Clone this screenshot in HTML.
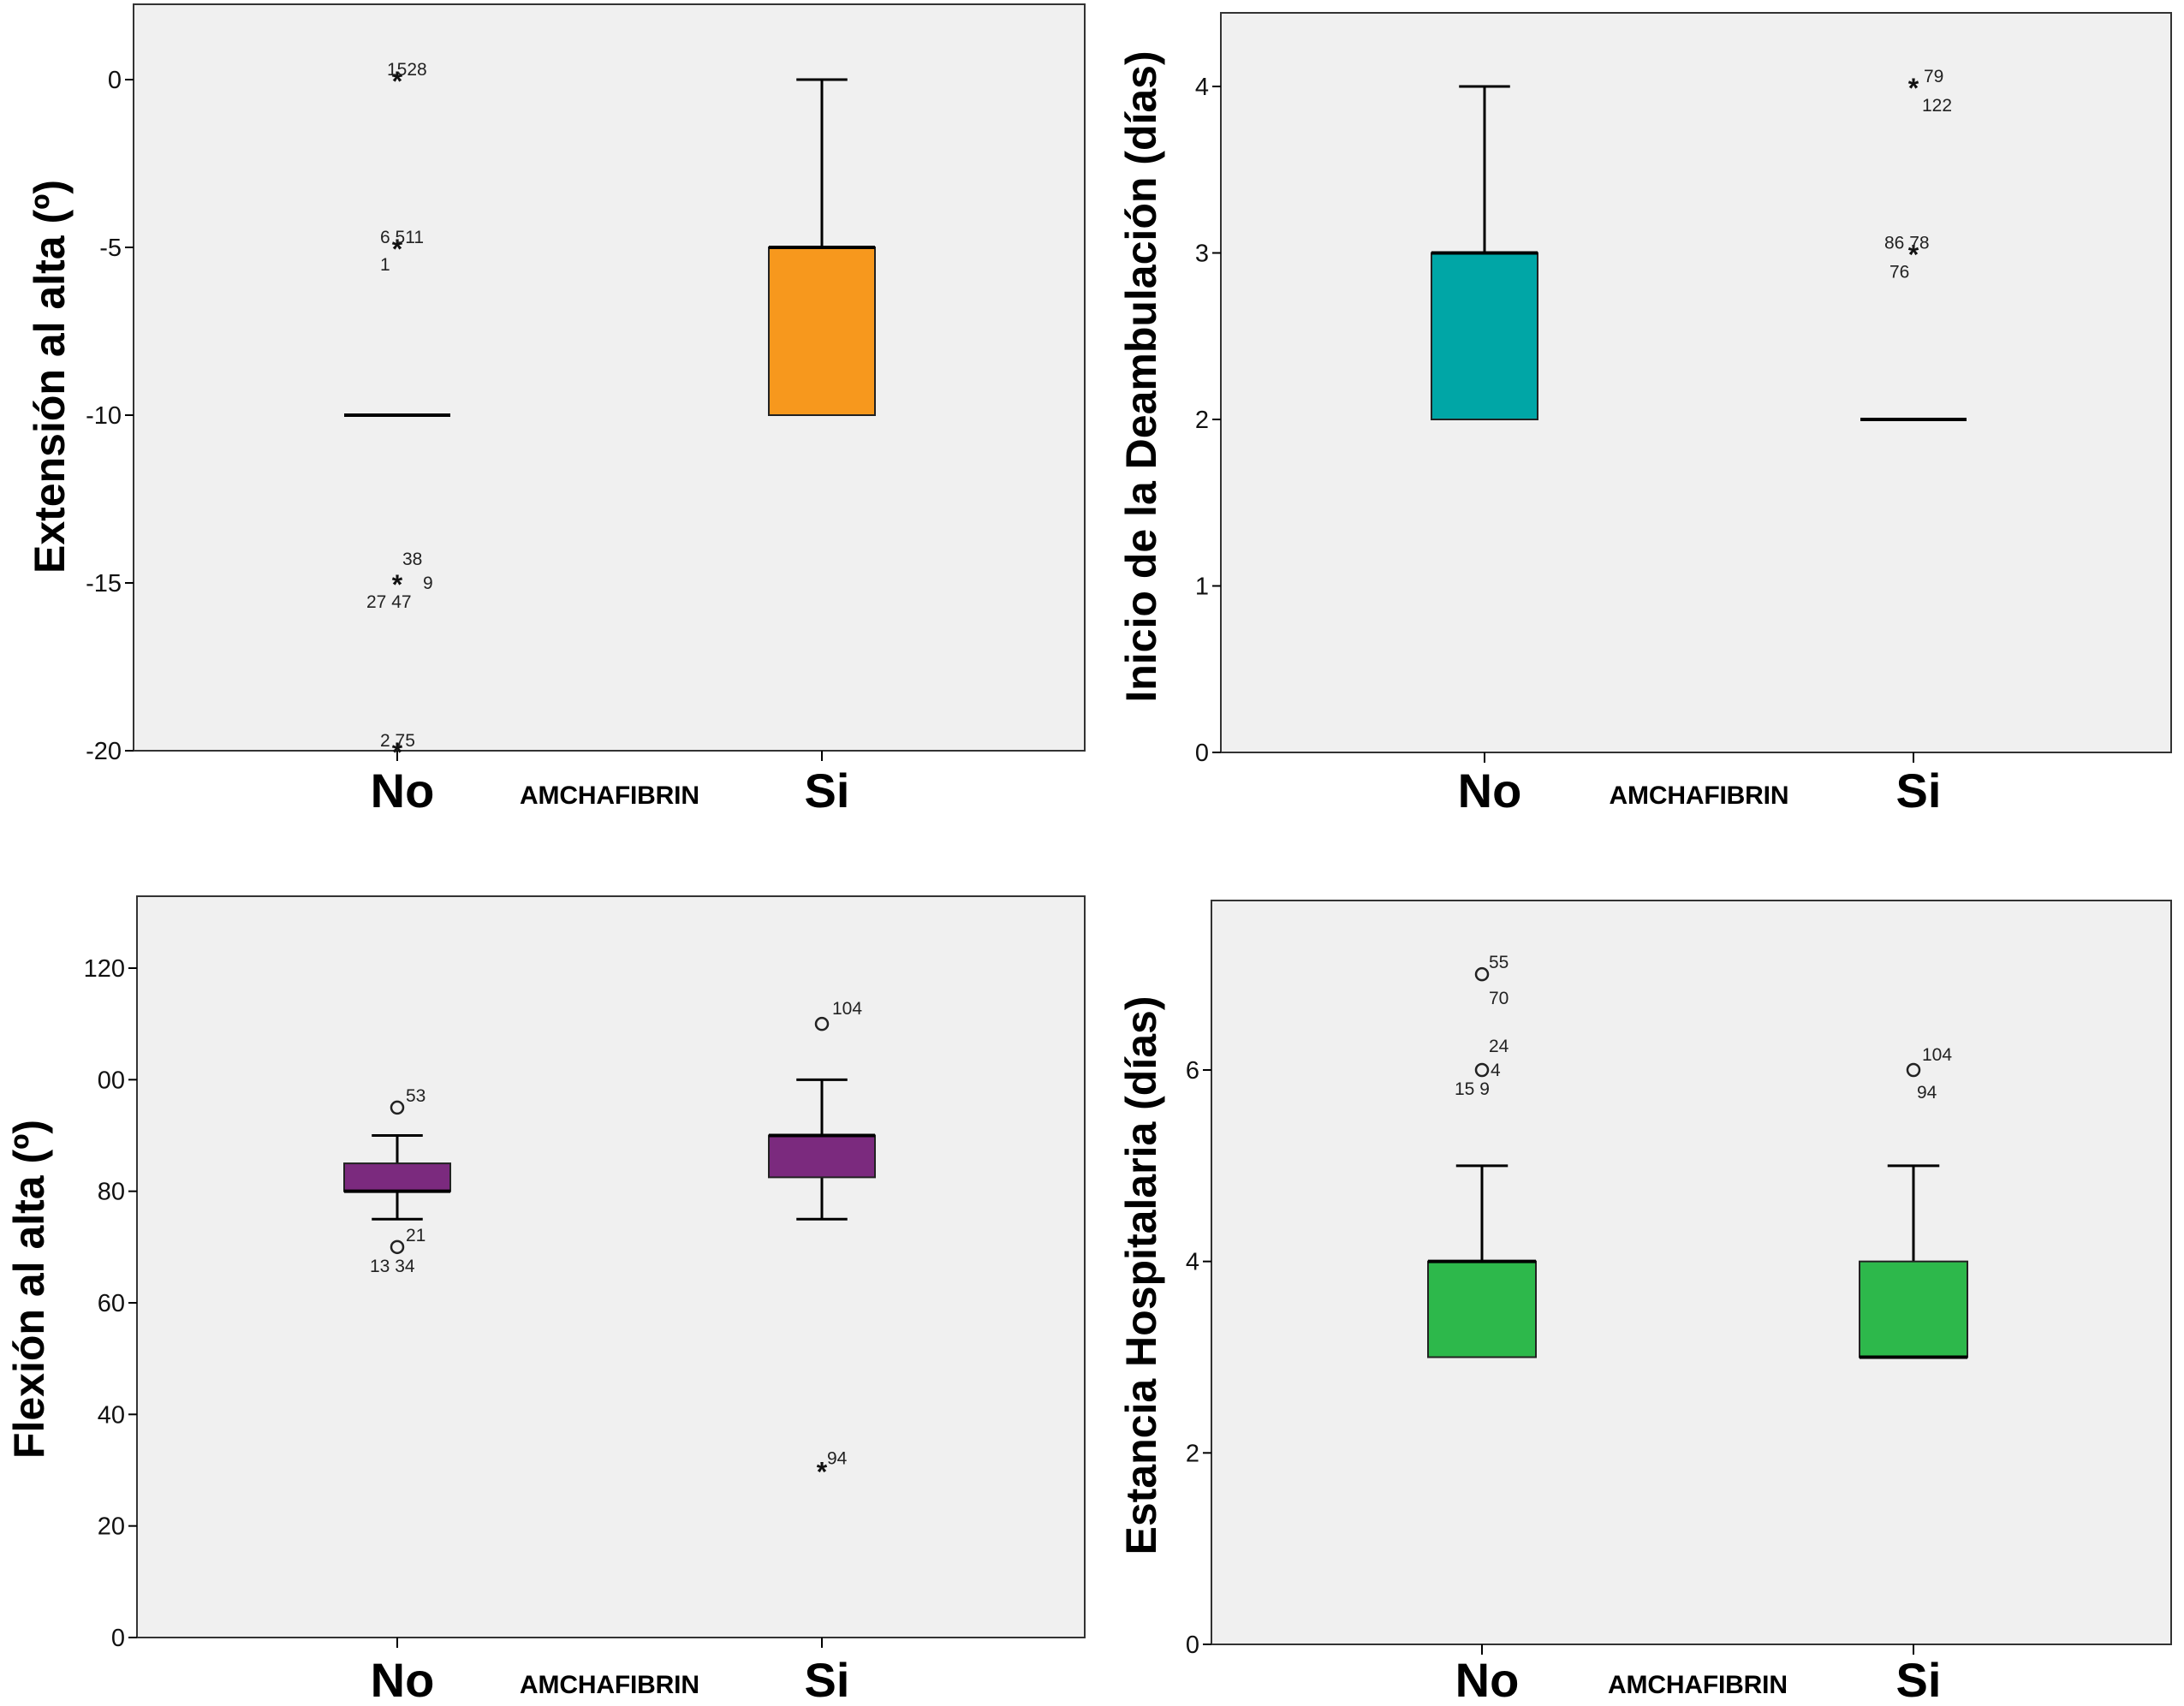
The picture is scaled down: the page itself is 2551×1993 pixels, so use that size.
<!DOCTYPE html>
<html><head><meta charset="utf-8"><style>
html,body{margin:0;padding:0;background:#fff;}
svg{display:block;font-family:"Liberation Sans",sans-serif;}
</style></head><body>
<svg id="fig" width="2551" height="1993" viewBox="0 0 2551 1993"></svg>
<script>
// ---- data ----
const categories = ["No", "Si"];
// Panel 1: Extension al alta
const p1Ticks = [0, -5, -10, -15, -20];
const p1TickLabels = ["0", "-5", "-10", "-15", "-20"];
const p1Box = [ {lo:-10,q1:-10,med:-10,q3:-10,hi:-10}, {lo:-10,q1:-10,med:-5,q3:-5,hi:0} ];
const p1Outliers = [ [{v:0,s:"star"},{v:-5,s:"star"},{v:-15,s:"star"},{v:-20,s:"star"}], [] ];
// Panel 2: Inicio de la deambulacion
const p2Ticks = [0, 1, 2, 3, 4];
const p2TickLabels = ["0", "1", "2", "3", "4"];
const p2Box = [ {lo:2,q1:2,med:3,q3:3,hi:4}, {lo:2,q1:2,med:2,q3:2,hi:2} ];
const p2Outliers = [ [], [{v:4,s:"star"},{v:3,s:"star"}] ];
// Panel 3: Flexion al alta
const p3Ticks = [0, 20, 40, 60, 80, 100, 120];
const p3TickLabels = ["0", "20", "40", "60", "80", "00", "120"];
const p3Box = [ {lo:75,q1:80,med:80,q3:85,hi:90}, {lo:75,q1:82.5,med:90,q3:90,hi:100} ];
const p3Outliers = [ [{v:95,s:"circle"},{v:70,s:"circle"}], [{v:110,s:"circle"},{v:30,s:"star"}] ];
// Panel 4: Estancia hospitalaria
const p4Ticks = [0, 2, 4, 6];
const p4TickLabels = ["0", "2", "4", "6"];
const p4Box = [ {lo:3,q1:3,med:4,q3:4,hi:5}, {lo:3,q1:3,med:3,q3:4,hi:5} ];
const p4Outliers = [ [{v:7,s:"circle"},{v:6,s:"circle"}], [{v:6,s:"circle"}] ];

// ---- layout ----
const NS = "http://www.w3.org/2000/svg";
const svg = document.getElementById("fig");
function el(tag, attrs, parent, text){
  const e = document.createElementNS(NS, tag);
  for (const k in attrs) e.setAttribute(k, attrs[k]);
  if (text !== undefined) e.textContent = text;
  (parent || svg).appendChild(e);
  return e;
}
const panels = [
  {key:"extension", x0:156,x1:1267,y0:5,y1:877, vTop:0,pTop:93, vBot:-20,pBot:877, cx:[464,960], bw:124,
   ticks:p1Ticks, tl:p1TickLabels, box:p1Box, out:p1Outliers, color:"#F7981D", title:"Extensión al alta (º)", tx:57, ty:440, labY:923,
   ann:[[0,0,"1528",-12,-12],[0,1,"6  511",-20,-12],[0,1,"1",-20,20],[0,2,"38",6,-28],[0,2,"9",30,0],[0,2,"27   47",-36,22],[0,3,"2  75",-20,-12]], annS:[]},
  {key:"deambulacion", x0:1426,x1:2536,y0:15,y1:879, vTop:4,pTop:101, vBot:0,pBot:879, cx:[1734,2235], bw:124,
   ticks:p2Ticks, tl:p2TickLabels, box:p2Box, out:p2Outliers, color:"#00A6A6", title:"Inicio de la Deambulación (días)", tx:1332, ty:440, labY:923,
   ann:[], annS:[[1,0,"79",12,-12],[1,0,"122",10,22],[1,1,"86  78",-34,-12],[1,1,"76",-28,22]]},
  {key:"flexion", x0:160,x1:1267,y0:1047,y1:1913, vTop:120,pTop:1131, vBot:0,pBot:1913, cx:[464,960], bw:124,
   ticks:p3Ticks, tl:p3TickLabels, box:p3Box, out:p3Outliers, color:"#7B2A7E", title:"Flexión al alta (º)", tx:33, ty:1506, labY:1962,
   ann:[[0,0,"53",10,-14],[0,1,"21",10,-14],[0,1,"13  34",-32,22]], annS:[[1,0,"104",12,-18],[1,1,"94",6,-14]]},
  {key:"estancia", x0:1415,x1:2536,y0:1052,y1:1921, vTop:6,pTop:1250, vBot:0,pBot:1921, cx:[1731,2235], bw:126,
   ticks:p4Ticks, tl:p4TickLabels, box:p4Box, out:p4Outliers, color:"#2DB84B", title:"Estancia Hospitalaria (días)", tx:1332, ty:1490, labY:1962,
   ann:[[0,0,"55",8,-14],[0,0,"70",8,28],[0,1,"24",8,-28],[0,1,"4",10,0],[0,1,"15  9",-32,22]], annS:[[1,0,"104",10,-18],[1,0,"94",4,26]]}
];

panels.forEach(p => {
  const y = v => p.pBot + (v - p.vBot) * (p.pTop - p.pBot) / (p.vTop - p.vBot);
  const g = el("g", {});
  
  
  const bg = el("rect", {x:p.x0, y:p.y0, width:p.x1-p.x0, height:p.y1-p.y0, fill:"#F0F0F0", stroke:"#333", "stroke-width":2}, g);
  
  
  // y ticks
  p.ticks.forEach((t, i) => {
    const yy = y(t);
    el("line", {x1:p.x0-10, x2:p.x0, y1:yy, y2:yy, stroke:"#000", "stroke-width":2}, g);
    const tl = el("text", {x:p.x0-14, y:yy+10, "text-anchor":"end", "font-size":29, fill:"#111"}, g, p.tl[i]);
    
    
  });
  // x ticks + labels
  categories.forEach((c, i) => {
    el("line", {x1:p.cx[i], x2:p.cx[i], y1:p.y1, y2:p.y1+12, stroke:"#000", "stroke-width":2}, g);
    const xl = el("text", {x:p.cx[i]+6, y:p.labY+20, "text-anchor":"middle", "font-size":56, "font-weight":"bold", fill:"#000"}, g, c);
    
    
  });
  const xt = el("text", {x:(p.cx[0]+p.cx[1])/2, y:p.labY+16, "text-anchor":"middle", "font-size":30, "font-weight":"bold", fill:"#000", "textLength":210}, g, "AMCHAFIBRIN");
  
  
  const yt = el("text", {x:0, y:0, transform:`translate(${p.tx+18},${p.ty}) rotate(-90)`, "text-anchor":"middle", "font-size":50, "font-weight":"bold", fill:"#000"}, g, p.title);
  
  
  // boxes
  p.box.forEach((b, i) => {
    const cx = p.cx[i], hw = p.bw/2, cw = p.bw*0.24;
    const bg2 = el("g", {}, g);
    
    
    el("line", {x1:cx, x2:cx, y1:y(b.hi), y2:y(b.q3), stroke:"#000", "stroke-width":3}, bg2);
    el("line", {x1:cx, x2:cx, y1:y(b.lo), y2:y(b.q1), stroke:"#000", "stroke-width":3}, bg2);
    if (b.hi > b.q3) el("line", {x1:cx-cw, x2:cx+cw, y1:y(b.hi), y2:y(b.hi), stroke:"#000", "stroke-width":3}, bg2);
    if (b.lo < b.q1) el("line", {x1:cx-cw, x2:cx+cw, y1:y(b.lo), y2:y(b.lo), stroke:"#000", "stroke-width":3}, bg2);
    if (b.q3 > b.q1) el("rect", {x:cx-hw, y:y(b.q3), width:p.bw, height:y(b.q1)-y(b.q3), fill:p.color, stroke:"#222", "stroke-width":2}, bg2);
    el("line", {x1:cx-hw, x2:cx+hw, y1:y(b.med), y2:y(b.med), stroke:"#000", "stroke-width":4}, bg2);
  });
  // outliers
  p.out.forEach((arr, i) => {
    arr.forEach(o => {
      const cx = p.cx[i], yy = y(o.v);
      let m;
      if (o.s === "circle") m = el("circle", {cx:cx, cy:yy, r:7, fill:"none", stroke:"#222", "stroke-width":2.5}, g);
      else m = el("text", {x:cx, y:yy+13, "text-anchor":"middle", "font-size":32, "font-weight":"bold", fill:"#111"}, g, "*");
      
      
    });
  });
  // case number annotations
  [...p.ann, ...p.annS].forEach(a => {
    const o = p.out[a[0]][a[1]];
    const t = el("text", {x:p.cx[a[0]]+a[3], y:y(o.v)+a[4]+7, "font-size":21, fill:"#222"}, g, a[2]);
    
    
  });
});
</script>
</body></html>
